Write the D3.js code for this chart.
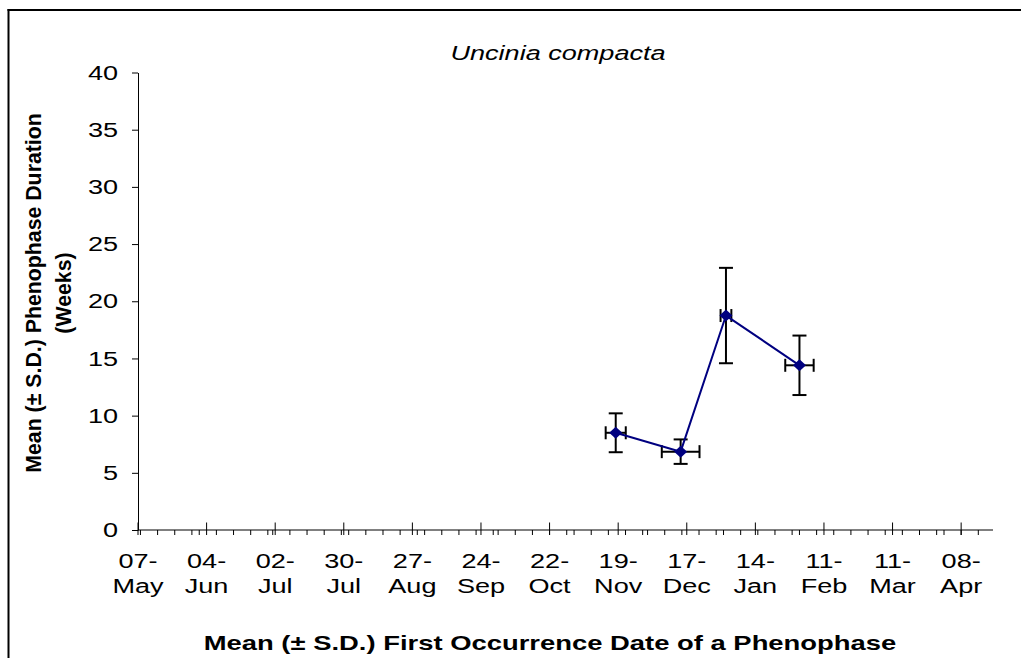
<!DOCTYPE html>
<html>
<head>
<meta charset="utf-8">
<script src="https://cdn.jsdelivr.net/npm/d3@7"></script>
<style>
  html, body { margin: 0; padding: 0; background: #fff; }
  svg { display: block; font-family: "Liberation Sans", Arial, sans-serif; }
</style>
</head>
<body>
<svg id="chart" width="1021" height="658"></svg>
<script>
// ---- data ----
const chartTitle = "Uncinia compacta";
const xTitle = "Mean (\u00B1 S.D.) First Occurrence Date of a Phenophase";
const yTitleLines = ["Mean (\u00B1 S.D.) Phenophase Duration", "(Weeks)"];
const meanDates = ["2001-11-18", "2001-12-14T12:00", "2002-01-02", "2002-02-01"];
const dateSD = [4.1, 7.7, 2.2, 5.8];          // days
const durations = [8.5, 6.85, 18.75, 14.4];   // weeks
const durationSD = [1.7, 1.07, 4.17, 2.6];    // weeks
const tickDates = ["2001-05-07","2001-06-04","2001-07-02","2001-07-30","2001-08-27","2001-09-24",
                   "2001-10-22","2001-11-19","2001-12-17","2002-01-14","2002-02-11","2002-03-11","2002-04-08"];
const xDomain = ["2001-05-07", "2002-04-21"];
const yTicks = [0, 5, 10, 15, 20, 25, 30, 35, 40];
const yDomain = [0, 40];

// ---- setup ----
const parse = s => new Date(s.length > 10 ? s : s + "T00:00");
const DAY = 86400000;
const SX = 1.29; // horizontal text stretch
const FS = 21;

const svg = d3.select("#chart");
const x = d3.scaleTime().domain(xDomain.map(parse)).range([138, 993]);
const y = d3.scaleLinear().domain(yDomain).range([530, 72.5]);

// frame
svg.append("line").attr("x1", 8.5).attr("x2", 8.5).attr("y1", 9).attr("y2", 658)
  .attr("stroke", "#000").attr("stroke-width", 2);
svg.append("line").attr("x1", 7.5).attr("x2", 1021).attr("y1", 10).attr("y2", 10)
  .attr("stroke", "#000").attr("stroke-width", 2);

// y axis
const yAxisG = svg.append("g").attr("transform", "translate(138,0)")
  .call(d3.axisLeft(y).tickValues(yTicks).tickSize(6).tickSizeOuter(0));
yAxisG.select(".domain").attr("stroke", "#000");
yAxisG.selectAll(".tick line").attr("stroke", "#000");
yAxisG.selectAll(".tick text")
  .attr("x", -20 / SX).attr("transform", `scale(${SX},1)`)
  .attr("font-size", FS).attr("font-family", "Liberation Sans, Arial, sans-serif").attr("fill", "#000");

// x axis
const xAxisG = svg.append("g").attr("transform", "translate(0,530)");
xAxisG.append("line").attr("x1", 138).attr("x2", 993).attr("y1", 0).attr("y2", 0).attr("stroke", "#000");
// minor ticks (weekly)
const start = parse(xDomain[0]), end = parse(xDomain[1]);
const minor = d3.timeDay.every(7).range(start, new Date(+end + DAY));
xAxisG.selectAll(".minor").data(minor).join("line").attr("class", "minor")
  .attr("x1", d => x(d)).attr("x2", d => x(d)).attr("y1", 0).attr("y2", 5).attr("stroke", "#000");
// major ticks
const majors = tickDates.map(parse);
xAxisG.selectAll(".major").data(majors).join("line").attr("class", "major")
  .attr("x1", d => x(d)).attr("x2", d => x(d)).attr("y1", -7.5).attr("y2", 5).attr("stroke", "#000");
const fmtD = d3.timeFormat("%d-"), fmtM = d3.timeFormat("%b");
const lbl = xAxisG.selectAll(".xl").data(majors).join("text").attr("class", "xl")
  .attr("transform", d => `translate(${x(d)},0) scale(${SX},1)`)
  .attr("text-anchor", "middle").attr("font-size", FS).attr("fill", "#000");
lbl.append("tspan").attr("x", 0).attr("y", 38).text(d => fmtD(d));
lbl.append("tspan").attr("x", 0).attr("y", 63).text(d => fmtM(d));

// titles
svg.append("text").attr("transform", `translate(558,60) scale(${SX},1)`)
  .attr("text-anchor", "middle").attr("font-size", FS).attr("font-style", "italic").text(chartTitle);
svg.append("text").attr("transform", `translate(550,650) scale(1.305,1)`)
  .attr("text-anchor", "middle").attr("font-size", FS).attr("font-weight", "bold").text(xTitle);
const yt = svg.append("text").attr("transform", `translate(40.6,293) rotate(-90)`)
  .attr("text-anchor", "middle").attr("font-size", 21.3).attr("font-weight", "bold");
yTitleLines.forEach((t, i) => yt.append("tspan").attr("x", 0).attr("y", i * 30).text(t));

// data
const pts = meanDates.map((d, i) => ({
  date: parse(d), dsd: dateSD[i], v: durations[i], vsd: durationSD[i]
}));

const err = svg.append("g").attr("stroke", "#000").attr("stroke-width", 2).attr("fill", "none");
pts.forEach(p => {
  const cx = x(p.date), cy = y(p.v);
  const xl = x(new Date(+p.date - p.dsd * DAY)), xr = x(new Date(+p.date + p.dsd * DAY));
  const yt2 = y(p.v + p.vsd), yb = y(p.v - p.vsd);
  err.append("line").attr("x1", cx).attr("x2", cx).attr("y1", yt2).attr("y2", yb);
  err.append("line").attr("x1", cx - 7).attr("x2", cx + 7).attr("y1", yt2).attr("y2", yt2);
  err.append("line").attr("x1", cx - 7).attr("x2", cx + 7).attr("y1", yb).attr("y2", yb);
  err.append("line").attr("x1", xl).attr("x2", xr).attr("y1", cy).attr("y2", cy);
  err.append("line").attr("x1", xl).attr("x2", xl).attr("y1", cy - 6.5).attr("y2", cy + 6.5);
  err.append("line").attr("x1", xr).attr("x2", xr).attr("y1", cy - 6.5).attr("y2", cy + 6.5);
});

svg.append("path").datum(pts)
  .attr("d", d3.line().x(d => x(d.date)).y(d => y(d.v)))
  .attr("fill", "none").attr("stroke", "#000080").attr("stroke-width", 2);

svg.selectAll(".mk").data(pts).join("path").attr("class", "mk")
  .attr("transform", d => `translate(${x(d.date)},${y(d.v)})`)
  .attr("d", "M-6.5,0L0,-6L6.5,0L0,6Z").attr("fill", "#000080");
</script>
</body>
</html>
